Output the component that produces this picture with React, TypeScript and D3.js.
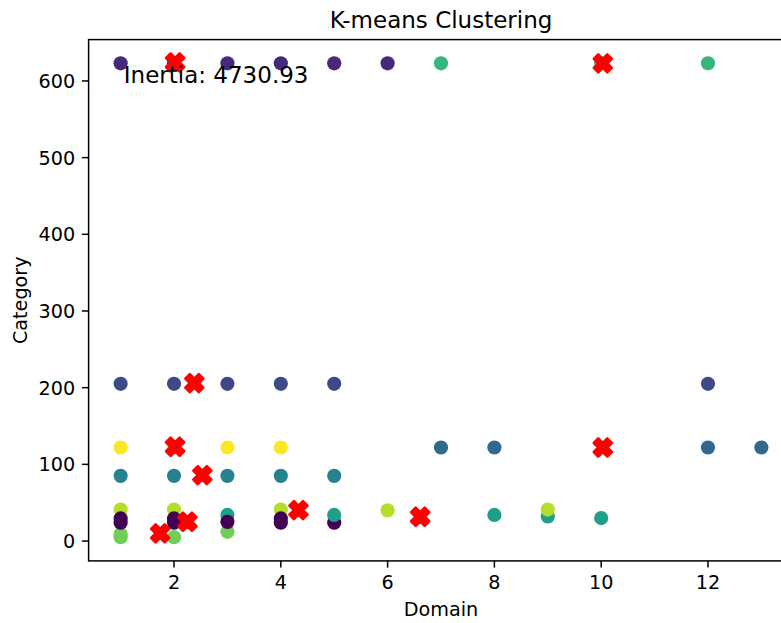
import React from 'react';
import * as d3 from 'd3';

const W = 781;
const H = 623;

// Data points (drawn in this order)
const pointDomain = [
  1, 1, 2, 3,
  3,
  1, 2, 4, 6,
  1, 1, 2, 2, 3, 4, 4, 5,
  5, 8, 9, 10,
  9,
  1, 2, 3, 4, 5,
  1, 2, 3, 4,
  7, 8, 12, 13,
  1, 2, 3, 4, 5, 12,
  1, 2, 3, 4, 5, 6,
  7, 10, 12,
];
const pointCategory = [
  5, 9, 5, 12,
  34,
  41, 41, 41, 40,
  29.5, 24, 29.5, 24, 25, 29.5, 24, 24,
  34, 34, 32, 30,
  41,
  85, 85, 85, 85, 85,
  122, 122, 122, 122,
  122, 122, 122, 122,
  205, 205, 205, 205, 205, 205,
  623, 623, 623, 623, 623, 623,
  623, 623, 623,
];
const pointCluster = [
  7, 7, 7, 7,
  5,
  8, 8, 8, 8,
  0, 0, 0, 0, 0, 0, 0, 0,
  5, 5, 5, 5,
  8,
  4, 4, 4, 4, 4,
  9, 9, 9, 9,
  3, 3, 3, 3,
  2, 2, 2, 2, 2, 2,
  1, 1, 1, 1, 1, 1,
  6, 6, 6,
];

// Cluster centroids
const centroidDomain = [2.02, 10.03, 2.38, 2.02, 10.03, 2.53, 4.33, 6.61, 1.74, 2.25];
const centroidCategory = [624, 623, 206, 123, 122, 86, 40.4, 31.7, 10, 25.2];

const xTicks = [2, 4, 6, 8, 10, 12];
const yTicks = [0, 100, 200, 300, 400, 500, 600];

const titleText = 'K-means Clustering';
const xLabelText = 'Domain';
const yLabelText = 'Category';
const inertiaText = 'Inertia: 4730.93';

const nClusters = 10;

const left = 88.6;
const right = 793.4;
const top = 39.6;
const bottom = 560.9;

const FONT = 'DejaVu Sans, sans-serif';
const tickFont = 19.2;

export default function App() {
  const x = d3.scaleLinear().domain([0.4, 13.6]).range([left, right]);
  const y = d3.scaleLinear().domain([-25.9, 653.9]).range([bottom, top]);
  const color = (c: number) => d3.interpolateViridis(c / (nClusters - 1));

  const xs = 9; // half extent of X marker path
  const xPath = d3.line()([
    [-1, -2], [0, -1], [1, -2], [2, -1], [1, 0], [2, 1],
    [1, 2], [0, 1], [-1, 2], [-2, 1], [-1, 0], [-2, -1],
  ].map(([a, b]) => [(a / 2) * xs, (b / 2) * xs] as [number, number])) + 'Z';

  const tickLen = 6.7;
  const pad = 6.7;

  return (
    <svg
      width={W}
      height={H}
      style={{ position: 'absolute', left: 0, top: 0, background: '#fff' }}
      fontFamily={FONT}
    >
      <rect x={0} y={0} width={W} height={H} fill="#fff" />
      {/* points */}
      <g>
        {pointDomain.map((d, i) => (
          <circle
            key={i}
            cx={x(d)}
            cy={y(pointCategory[i])}
            r={7.1}
            fill={color(pointCluster[i])}
          />
        ))}
      </g>
      {/* centroids */}
      <g>
        {centroidDomain.map((d, i) => (
          <path
            key={i}
            d={xPath}
            transform={`translate(${x(d)},${y(centroidCategory[i])})`}
            fill="#ff0000"
            stroke="#ff0000"
            strokeWidth={2.6}
            strokeLinejoin="round"
          />
        ))}
      </g>
      {/* spines */}
      <rect
        x={left}
        y={top}
        width={right - left}
        height={bottom - top}
        fill="none"
        stroke="#000"
        strokeWidth={1.5}
      />
      {/* x ticks */}
      <g>
        {xTicks.map((t) => (
          <g key={t}>
            <line x1={x(t)} x2={x(t)} y1={bottom} y2={bottom + tickLen} stroke="#000" strokeWidth={1.5} />
            <text x={x(t)} y={bottom + tickLen + pad + 14.6} textAnchor="middle" fontSize={tickFont} fill="#000">
              {t}
            </text>
          </g>
        ))}
      </g>
      {/* y ticks */}
      <g>
        {yTicks.map((t) => (
          <g key={t}>
            <line x1={left - tickLen} x2={left} y1={y(t)} y2={y(t)} stroke="#000" strokeWidth={1.5} />
            <text x={left - tickLen - pad} y={y(t) + 7} textAnchor="end" fontSize={tickFont} fill="#000">
              {t}
            </text>
          </g>
        ))}
      </g>
      {/* inertia text */}
      <text x={left + 0.05 * (right - left)} y={top + 0.05 * (bottom - top) + 17.5} fontSize={23} fill="#000">
        {inertiaText}
      </text>
      {/* title */}
      <text x={(left + right) / 2} y={top - 11.5} textAnchor="middle" fontSize={23} fill="#000">
        {titleText}
      </text>
      {/* x label */}
      <text x={(left + right) / 2} y={616.4} textAnchor="middle" fontSize={tickFont} fill="#000">
        {xLabelText}
      </text>
      {/* y label */}
      <text
        transform={`translate(27,${(top + bottom) / 2}) rotate(-90)`}
        textAnchor="middle"
        fontSize={tickFont}
        fill="#000"
      >
        {yLabelText}
      </text>
    </svg>
  );
}
